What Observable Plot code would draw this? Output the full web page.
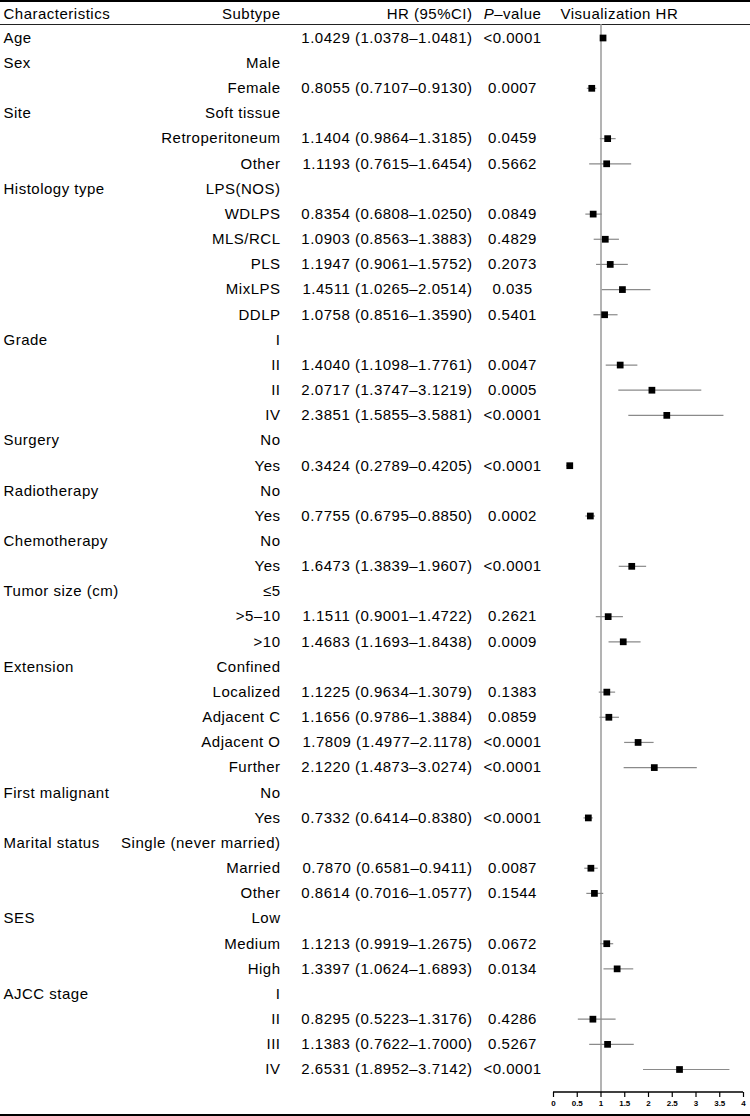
<!DOCTYPE html>
<html>
<head>
<meta charset="utf-8">
<script src="https://cdn.jsdelivr.net/npm/d3@7"></script>
<script src="https://cdn.jsdelivr.net/npm/@observablehq/plot@0.6"></script>
<style>
  html, body { margin: 0; padding: 0; background: #fff; overflow: hidden; }
  #chart svg { display: block; border-top: 2px solid #000; border-bottom: 2px solid #000; }
  #chart svg g[aria-label="text"] text { letter-spacing: 0.5px; }
</style>
</head>
<body>
<div id="chart"></div>
<script>
// ---- data ----
const headers = ["Characteristics", "Subtype", "HR (95%CI)", "P–value", "Visualization HR"];

const characteristics = ["Age","Sex","","Site","","","Histology type","","","","","","Grade","","","",
  "Surgery","","Radiotherapy","","Chemotherapy","","Tumor size (cm)","","","Extension","","","","",
  "First malignant","","Marital status","","","SES","","","AJCC stage","","",""];

const subtypes = ["","Male","Female","Soft tissue","Retroperitoneum","Other","LPS(NOS)","WDLPS","MLS/RCL","PLS",
  "MixLPS","DDLP","I","II","II","IV","No","Yes","No","Yes","No","Yes","≤5",">5–10",">10","Confined","Localized",
  "Adjacent C","Adjacent O","Further","No","Yes","Single (never married)","Married","Other","Low","Medium","High",
  "I","II","III","IV"];

const hr = [1.0429,null,0.8055,null,1.1404,1.1193,null,0.8354,1.0903,1.1947,1.4511,1.0758,null,1.4040,2.0717,2.3851,
  null,0.3424,null,0.7755,null,1.6473,null,1.1511,1.4683,null,1.1225,1.1656,1.7809,2.1220,null,0.7332,null,0.7870,
  0.8614,null,1.1213,1.3397,null,0.8295,1.1383,2.6531];

const lower = [1.0378,null,0.7107,null,0.9864,0.7615,null,0.6808,0.8563,0.9061,1.0265,0.8516,null,1.1098,1.3747,1.5855,
  null,0.2789,null,0.6795,null,1.3839,null,0.9001,1.1693,null,0.9634,0.9786,1.4977,1.4873,null,0.6414,null,0.6581,
  0.7016,null,0.9919,1.0624,null,0.5223,0.7622,1.8952];

const upper = [1.0481,null,0.9130,null,1.3185,1.6454,null,1.0250,1.3883,1.5752,2.0514,1.3590,null,1.7761,3.1219,3.5881,
  null,0.4205,null,0.8850,null,1.9607,null,1.4722,1.8438,null,1.3079,1.3884,2.1178,3.0274,null,0.8380,null,0.9411,
  1.0577,null,1.2675,1.6893,null,1.3176,1.7000,3.7142];

const pValues = ["<0.0001","","0.0007","","0.0459","0.5662","","0.0849","0.4829","0.2073","0.035","0.5401","",
  "0.0047","0.0005","<0.0001","","<0.0001","","0.0002","","<0.0001","","0.2621","0.0009","","0.1383","0.0859",
  "<0.0001","<0.0001","","<0.0001","","0.0087","0.1544","","0.0672","0.0134","","0.4286","0.5267","<0.0001"];

const axisTicks = [0, 0.5, 1, 1.5, 2, 2.5, 3, 3.5, 4];
const referenceHR = [1];

// ---- table built from the arrays ----
const rows = characteristics.map((c, i) => ({
  i, c, s: subtypes[i], hr: hr[i], lo: lower[i], hi: upper[i], p: pValues[i],
  label: hr[i] == null ? "" : `${hr[i].toFixed(4)} (${lower[i].toFixed(4)}–${upper[i].toFixed(4)})`
}));
const est = rows.filter(d => d.hr != null);

const FONT = "'Liberation Sans', Arial, Helvetica, sans-serif";
const T = {fontSize: 15, fill: "#000", lineAnchor: "middle"};

const axisLine = (index, scales, values, dimensions) => {
  const {x} = scales;
  const yy = dimensions.height - dimensions.marginBottom;
  return d3.create("svg:line")
    .attr("x1", x(axisTicks[0])).attr("x2", x(axisTicks[axisTicks.length - 1]))
    .attr("y1", yy).attr("y2", yy)
    .attr("stroke", "#000").attr("stroke-width", 1.3).node();
};

const plot = Plot.plot({
  width: 750,
  height: 1112,
  marginTop: 22,
  marginBottom: 22,
  marginLeft: 0,
  marginRight: 0,
  style: {fontFamily: FONT, fontSize: "8px", background: "#fff", color: "#000"},
  x: {domain: [0, 4], range: [553, 743]},
  y: {domain: [0, 41], range: [35.5, 1067], axis: null},
  marks: [
    Plot.frame({anchor: "top", stroke: "#222", strokeWidth: 1.2}),
    Plot.ruleX(referenceHR, {stroke: "#9a9a9a", strokeWidth: 1.5}),
    axisLine,
    Plot.axisX({ticks: axisTicks, tickSize: 5, tickPadding: 3, tickFormat: d => String(d),
      fontSize: 8, fontWeight: "bold", label: null, stroke: "#000", strokeWidth: 1.2}),
    Plot.ruleY(est, {y: "i", x1: "lo", x2: "hi", stroke: "#8a8a8a", strokeWidth: 1.2}),
    Plot.dot(est, {x: "hr", y: "i", symbol: "square", r: 3.8, fill: "#000", stroke: null}),
    // table columns
    Plot.text(rows, {y: "i", text: "c", frameAnchor: "left", dx: 3, textAnchor: "start", ...T}),
    Plot.text(rows, {y: "i", text: "s", frameAnchor: "left", dx: 280, textAnchor: "end", ...T}),
    Plot.text(rows, {y: "i", text: "label", frameAnchor: "left", dx: 472, textAnchor: "end", ...T}),
    Plot.text(rows, {y: "i", text: "p", frameAnchor: "left", dx: 512, textAnchor: "middle", ...T}),
    // header
    Plot.text([headers[0]], {text: d => d, frameAnchor: "top-left", dx: 3, dy: -10, textAnchor: "start", ...T}),
    Plot.text([headers[1]], {text: d => d, frameAnchor: "top-left", dx: 280, dy: -10, textAnchor: "end", ...T}),
    Plot.text([headers[2]], {text: d => d, frameAnchor: "top-left", dx: 472, dy: -10, textAnchor: "end", ...T}),
    Plot.text([headers[3]], {text: d => d, frameAnchor: "top-left", dx: 512, dy: -10, textAnchor: "middle", ...T}),
    Plot.text([headers[4]], {text: d => d, frameAnchor: "top-left", dx: 560, dy: -10, textAnchor: "start", ...T})
  ]
});

// italic "P" in the P–value header
d3.select(plot).selectAll("text").filter(function() { return this.textContent === headers[3]; })
  .each(function() {
    const t = d3.select(this);
    t.text(null);
    t.append("tspan").attr("font-style", "italic").text("P");
    t.append("tspan").text(headers[3].slice(1));
  });

document.getElementById("chart").appendChild(plot);
</script>
</body>
</html>
